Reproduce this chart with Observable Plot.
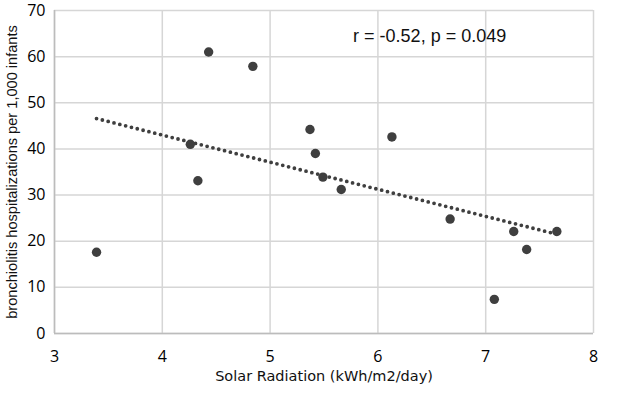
<!DOCTYPE html>
<html>
<head>
<meta charset="utf-8">
<script src="https://cdn.jsdelivr.net/npm/d3@7"></script>
<script src="https://cdn.jsdelivr.net/npm/@observablehq/plot@0.6"></script>
<style>
  html, body { margin: 0; padding: 0; background: #fff; }
</style>
</head>
<body>
<div id="chart"></div>
<script>
const solarRadiation = [3.39, 4.26, 4.33, 4.43, 4.84, 5.37, 5.42, 5.49, 5.66, 6.13, 6.67, 7.26, 7.38, 7.08, 7.66];
const hospitalizations = [17.6, 41.0, 33.1, 61.0, 57.9, 44.2, 39.0, 33.9, 31.2, 42.6, 24.8, 22.1, 18.2, 7.4, 22.1];
const xTicks = [3, 4, 5, 6, 7, 8];
const yTicks = [0, 10, 20, 30, 40, 50, 60, 70];
const xLabel = "Solar Radiation (kWh/m2/day)";
const yLabel = "bronchiolitis hospitalizations per 1,000 infants";
const statsText = "r = -0.52, p = 0.049";

const data = solarRadiation.map((x, i) => ({x, y: hospitalizations[i]}));

const gridColor = "#d6d6d6";
const dark = "#3f3f3f";

const chart = Plot.plot({
  width: 617,
  height: 395,
  marginLeft: 54,
  marginRight: 24,
  marginTop: 10,
  marginBottom: 62,
  style: {background: "#fff", overflow: "visible"},
  x: {domain: [3, 8]},
  y: {domain: [0, 70]},
  marks: [
    Plot.gridX(xTicks, {stroke: gridColor, strokeOpacity: 1, strokeWidth: 1.5}),
    Plot.gridY(yTicks, {stroke: gridColor, strokeOpacity: 1, strokeWidth: 1.5}),
    Plot.ruleX([3], {stroke: "#bcbcbc", strokeWidth: 1.5}),
    Plot.ruleY([0], {stroke: "#bcbcbc", strokeWidth: 1.5}),
    Plot.axisX(xTicks, {tickSize: 0, tickPadding: 17, label: null, fontSize: 16, fill: "#000", fontFamily: "Open Sans"}),
    Plot.axisY(yTicks, {tickSize: 0, tickPadding: 9, label: null, fontSize: 16, fill: "#000", fontFamily: "Open Sans"}),
    Plot.linearRegressionY(data, {x: "x", y: "y", ci: 0, stroke: dark, strokeWidth: 3.8, strokeDasharray: "0,6", strokeLinecap: "round"}),
    Plot.dot(data, {x: "x", y: "y", r: 4.7, fill: dark, stroke: "none"}),
    Plot.text([statsText], {x: 6.48, y: 64.4, text: d => d, fontSize: 18, fontFamily: "Liberation Sans", fill: "#111", textAnchor: "middle"}),
    Plot.text([xLabel], {frameAnchor: "bottom", dy: 47, text: d => d, fontSize: 14.5, fontFamily: "DejaVu Sans", fill: "#111", textAnchor: "middle"}),
    Plot.text([yLabel], {frameAnchor: "left", dx: -42, rotate: -90, text: d => d, fontSize: 14.6, fontFamily: "Liberation Sans", fill: "#111", textAnchor: "middle"})
  ]
});
document.getElementById("chart").appendChild(chart);
</script>
</body>
</html>
